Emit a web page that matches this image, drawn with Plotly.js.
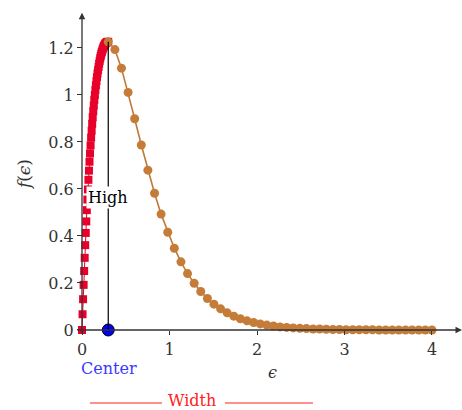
<!DOCTYPE html>
<html>
<head>
<meta charset="utf-8">
<script src="https://cdn.plot.ly/plotly-3.0.1.min.js"></script>
<style>html,body{margin:0;padding:0;background:#fff;}#chart{width:462px;height:410px;}</style>
</head>
<body>
<div id="chart"></div>
<script>
// Rising part (red squares), epsilon from 0 to 0.3
const riseEps = [0, 0.0061, 0.0122, 0.0184, 0.0245, 0.0306, 0.0367, 0.0429, 0.0490, 0.0551,
  0.0612, 0.0673, 0.0735, 0.0796, 0.0857, 0.0918, 0.0980, 0.1041, 0.1102, 0.1163,
  0.1224, 0.1286, 0.1347, 0.1408, 0.1469, 0.1531, 0.1592, 0.1653, 0.1714, 0.1776,
  0.1837, 0.1898, 0.1959, 0.2020, 0.2082, 0.2143, 0.2204, 0.2265, 0.2327, 0.2388,
  0.2449, 0.2510, 0.2571, 0.2633, 0.2694, 0.2755, 0.2816, 0.2878, 0.2939, 0.3000];
const riseF = [0, 0.067, 0.131, 0.192, 0.251, 0.307, 0.361, 0.413, 0.462, 0.510,
  0.555, 0.598, 0.639, 0.678, 0.716, 0.751, 0.785, 0.818, 0.848, 0.877,
  0.905, 0.931, 0.955, 0.979, 1.000, 1.021, 1.041, 1.059, 1.076, 1.092,
  1.106, 1.120, 1.133, 1.145, 1.156, 1.166, 1.175, 1.183, 1.190, 1.197,
  1.203, 1.208, 1.213, 1.216, 1.220, 1.222, 1.224, 1.225, 1.226, 1.226];
// Falling part (brown circles), epsilon from 0.3 to 4
const fallEps = [0.300, 0.376, 0.451, 0.527, 0.602, 0.678, 0.753, 0.829, 0.904, 0.980,
  1.055, 1.131, 1.206, 1.282, 1.357, 1.433, 1.508, 1.584, 1.659, 1.735,
  1.810, 1.886, 1.961, 2.037, 2.112, 2.188, 2.263, 2.339, 2.414, 2.490,
  2.565, 2.641, 2.716, 2.792, 2.867, 2.943, 3.018, 3.094, 3.169, 3.245,
  3.320, 3.396, 3.471, 3.547, 3.622, 3.698, 3.773, 3.849, 3.924, 4.000];
const fallF = [1.226, 1.193, 1.114, 1.011, 0.899, 0.787, 0.680, 0.582, 0.493, 0.416,
  0.348, 0.290, 0.240, 0.199, 0.164, 0.134, 0.110, 0.090, 0.073, 0.059,
  0.048, 0.039, 0.032, 0.026, 0.021, 0.017, 0.013, 0.011, 0.009, 0.007,
  0.006, 0.004, 0.004, 0.003, 0.002, 0.002, 0.001, 0.001, 0.001, 0.001,
  0.001, 0.000, 0.000, 0.000, 0.000, 0.000, 0.000, 0.000, 0.000, 0.000];
const centerEps = [0.3];
const centerF = [0];
const peakF = 1.226;
const xTicks = [0, 1, 2, 3, 4];
const xTickText = ['0', '1', '2', '3', '4'];
const yTicks = [0, 0.2, 0.4, 0.6, 0.8, 1.0, 1.2];
const yTickText = ['0', '0.2', '0.4', '0.6', '0.8', '1', '1.2'];

const serif = '"DejaVu Serif", "Liberation Serif", serif';
const axisCol = '#333';

const traces = [
  {x: riseEps, y: riseF, mode: 'lines+markers', type: 'scatter',
   line: {color: '#e8002a', width: 1},
   marker: {symbol: 'square', size: 8, color: '#e8002a'}, cliponaxis: false},
  {x: fallEps, y: fallF, mode: 'lines+markers', type: 'scatter',
   line: {color: '#bf7a38', width: 1.6},
   marker: {symbol: 'circle', size: 9, color: '#c47c38'}, cliponaxis: false},
  {x: centerEps, y: centerF, mode: 'markers', type: 'scatter',
   marker: {symbol: 'circle', size: 12, color: '#0000ff', line: {color: '#000', width: 1}},
   cliponaxis: false}
];

const layout = {
  width: 462, height: 410,
  margin: {l: 76, r: 0, t: 12, b: 75},
  paper_bgcolor: '#fff', plot_bgcolor: '#fff',
  showlegend: false,
  font: {family: serif, size: 16, color: axisCol},
  xaxis: {range: [-0.0686, 4.343], anchor: 'free', position: 0.0155,
    showgrid: false, zeroline: false, showline: false,
    tickvals: xTicks, ticktext: xTickText, ticks: 'outside', ticklen: 4,
    tickcolor: axisCol, ticklabelstandoff: 1,
    tickfont: {family: serif, size: 16, color: axisCol}},
  yaxis: {range: [-0.0213, 1.353], anchor: 'free', position: 0.01555,
    showgrid: false, zeroline: false, showline: false,
    tickvals: yTicks, ticktext: yTickText, ticks: 'outside', ticklen: 5,
    tickcolor: axisCol,
    tickfont: {family: serif, size: 16, color: axisCol}},
  shapes: [
    {type: 'line', xref: 'x', yref: 'y', x0: 0.3, x1: 0.3, y0: 0, y1: peakF,
     line: {color: '#000', width: 1.2}, layer: 'above'},
    {type: 'line', xref: 'paper', yref: 'paper', x0: 0.0363, x1: 0.2228, y0: -0.2105, y1: -0.2105,
     line: {color: '#ff2020', width: 1.2}},
    {type: 'line', xref: 'paper', yref: 'paper', x0: 0.386, x1: 0.614, y0: -0.2105, y1: -0.2105,
     line: {color: '#ff2020', width: 1.2}}
  ],
  annotations: [
    {x: 4.343, y: 0, ax: -0.07, ay: 0, xref: 'x', yref: 'y', axref: 'x', ayref: 'y',
     text: '', showarrow: true, arrowhead: 2, arrowsize: 1, arrowwidth: 1.3, arrowcolor: axisCol, standoff: 0, startstandoff: 0},
    {x: 0, y: 1.35, ax: 0, ay: -0.02, xref: 'x', yref: 'y', axref: 'x', ayref: 'y',
     text: '', showarrow: true, arrowhead: 2, arrowsize: 1, arrowwidth: 1.3, arrowcolor: axisCol, standoff: 0, startstandoff: 0},
    {x: 0.3, y: 0.565, xref: 'x', yref: 'y', text: 'High', showarrow: false,
     xanchor: 'center', yanchor: 'middle',
     bgcolor: '#fff', font: {family: serif, size: 16, color: '#000'}},
    {x: 0.0855, y: -0.104, xref: 'paper', yref: 'paper', text: 'Center', showarrow: false,
     xanchor: 'center', yanchor: 'middle',
     font: {family: serif, size: 16, color: '#3a3aff'}},
    {x: 0.3005, y: -0.203, xref: 'paper', yref: 'paper', text: 'Width', showarrow: false,
     xanchor: 'center', yanchor: 'middle',
     font: {family: serif, size: 16, color: '#ff2020'}},
    {x: 0.510, y: -0.1146, xref: 'paper', yref: 'paper', text: '<i>ϵ</i>', showarrow: false,
     xanchor: 'center', yanchor: 'middle',
     font: {family: serif, size: 16, color: axisCol}},
    {x: -0.1347, y: 0.495, xref: 'paper', yref: 'paper', text: '<i>f</i>(<i>ϵ</i>)', showarrow: false,
     xanchor: 'center', yanchor: 'middle',
     textangle: -90, font: {family: serif, size: 17, color: axisCol}}
  ]
};

Plotly.newPlot('chart', traces, layout, {displayModeBar: false, staticPlot: true});
</script>
</body>
</html>
